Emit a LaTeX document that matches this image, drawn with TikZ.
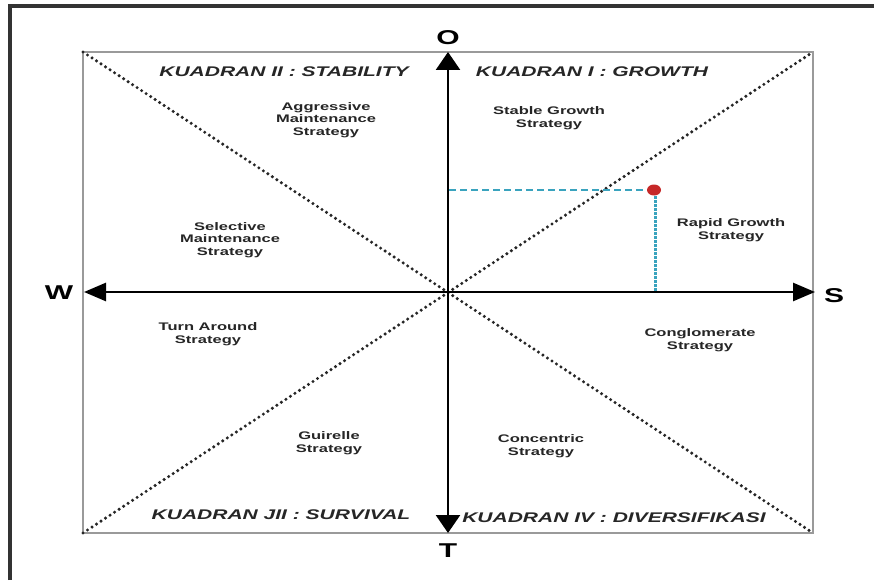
\documentclass[tikz,border=0pt]{standalone}
\usepackage{fontspec}
\usetikzlibrary{arrows.meta,shapes.geometric}
\newfontfamily\lbl[FakeStretch=1.5]{Liberation Sans}
\definecolor{txt}{HTML}{262626}
\definecolor{frm}{HTML}{9A9A9A}
\definecolor{cy}{HTML}{3AA3BE}
\definecolor{rd}{HTML}{C62828}
\tikzset{
  quad/.style={font=\lbl\bfseries\itshape\fontsize{14}{16}\selectfont, text=txt, inner sep=0pt},
  strat/.style={font=\lbl\bfseries\fontsize{11}{12.5}\selectfont, text=txt, align=center, inner sep=0pt},
  dirlbl/.style={font=\lbl\bfseries\fontsize{20}{22}\selectfont, text=black, inner sep=0pt},
  vaxis/.style={line width=2.6pt, black, {Triangle[length=18pt,width=24pt]}-{Triangle[length=18pt,width=24pt]}},
  haxis/.style={line width=2.6pt, black, {Triangle[length=22pt,width=18pt]}-{Triangle[length=22pt,width=18pt]}},
  diag/.style={line width=3.4pt, black!85, dash pattern=on 0pt off 5.4pt, line cap=round},
}
\begin{document}
\begin{tikzpicture}[x=1pt,y=-1pt]
\useasboundingbox (0,0) rectangle (874,580);
\fill[white] (0,0) rectangle (874,580);
% outer frame (left and top visible)
\draw[line width=3.2pt, black!80] (10,580) -- (10,6) -- (874,6);
% inner box
\coordinate (tl) at (83,52);
\coordinate (tr) at (813,52);
\coordinate (bl) at (83,533);
\coordinate (br) at (813,533);
\coordinate (c) at (448,292.5);
\draw[line width=1.6pt, frm] (tl) rectangle (br);
% diagonals
\draw[diag] (tl) -- (br);
\draw[diag] (bl) -- (tr);
% axes
\coordinate (ot) at (448,52);
\coordinate (tb) at (448,533);
\coordinate (wl) at (84,292);
\coordinate (sr) at (815,292);
\draw[vaxis] (tb) -- (ot);
\draw[haxis] (wl) -- (sr);
% position point
\coordinate (py) at (449,190);
\coordinate (px) at (655,292);
\draw[cy, line width=2.4pt, dash pattern=on 7pt off 4pt] (py) -- (650,190);
\draw[cy, line width=3pt, dash pattern=on 2.5pt off 1.5pt] (655,196) -- (px);
\node[fill=rd, ellipse, minimum width=14pt, minimum height=11pt, inner sep=0pt] (pt) at (654,190) {};
% axis letters
\node[dirlbl] (O) at (448,38) {O};
\node[dirlbl] (T) at (448,551) {T};
\node[dirlbl] (W) at (59,293) {W};
\node[dirlbl] (S) at (834,296) {S};
% quadrant titles
\node[quad] (q2) at (284,72) {KUADRAN II : STABILITY};
\node[quad] (q1) at (592,72) {KUADRAN I : GROWTH};
\node[quad] (q3) at (281,515) {KUADRAN JII : SURVIVAL};
\node[quad] (q4) at (614,518) {KUADRAN IV : DIVERSIFIKASI};
% strategies
\node[strat] (s1) at (326,120) {Aggressive\\Maintenance\\Strategy};
\node[strat] (s2) at (549,118) {Stable Growth\\Strategy};
\node[strat] (s3) at (230,240) {Selective\\Maintenance\\Strategy};
\node[strat] (s4) at (731,230) {Rapid Growth\\Strategy};
\node[strat] (s5) at (208,334) {Turn Around\\Strategy};
\node[strat] (s6) at (700,340) {Conglomerate\\Strategy};
\node[strat] (s7) at (329,443) {Guirelle\\Strategy};
\node[strat] (s8) at (541,446) {Concentric\\Strategy};
\end{tikzpicture}
\end{document}
